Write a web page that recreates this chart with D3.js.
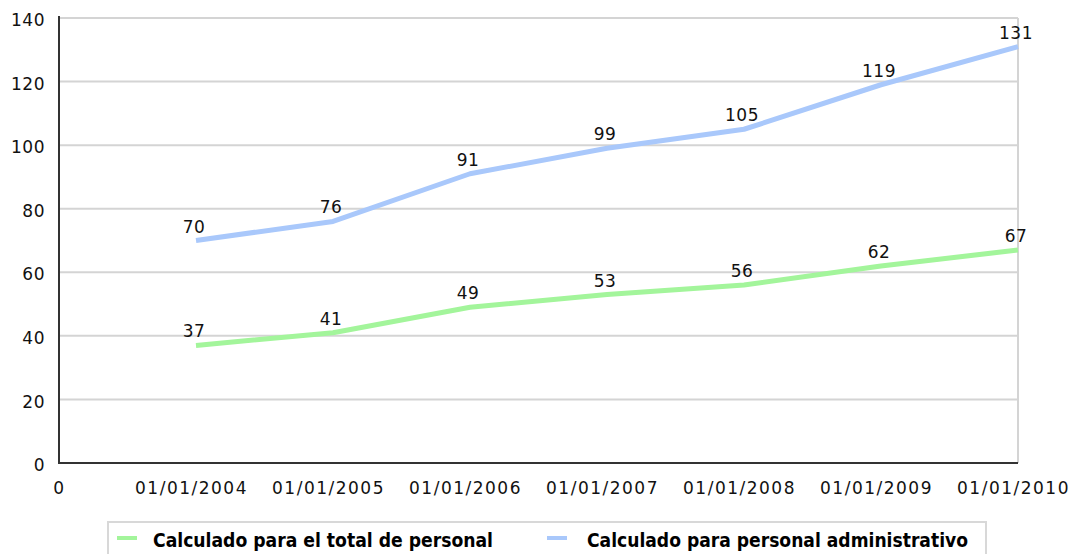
<!DOCTYPE html>
<html>
<head>
<meta charset="utf-8">
<script src="https://cdn.jsdelivr.net/npm/d3@7"></script>
<style>
  html, body { margin: 0; padding: 0; background: #fff; }
  svg { display: block; }
</style>
</head>
<body>
<svg id="chart" width="1079" height="554"></svg>
<script>
// Categories (x axis) and the two series
const dates = ["01/01/2004", "01/01/2005", "01/01/2006", "01/01/2007", "01/01/2008", "01/01/2009", "01/01/2010"];
const totalPersonal = [37, 41, 49, 53, 56, 62, 67];
const adminPersonal = [70, 76, 91, 99, 105, 119, 131];
const seriesNames = ["Calculado para el total de personal", "Calculado para personal administrativo"];
const seriesColors = ["#a3f59b", "#a9c8fb"];
const yTicks = [0, 20, 40, 60, 80, 100, 120, 140];
const xTickLabels = ["0"].concat(dates);

const svg = d3.select("#chart");
const plotLeft = 59, plotRight = 1018, plotTop = 18, plotBottom = 463;
const font = "'DejaVu Sans', Verdana, sans-serif";

const x = d3.scaleLinear().domain([0, dates.length]).range([plotLeft, plotRight]);
const y = d3.scaleLinear().domain([0, 140]).range([plotBottom, plotTop]);

// horizontal gridlines
svg.append("g").selectAll("line")
  .data(yTicks.filter(v => v > 0))
  .join("line")
  .attr("x1", plotLeft).attr("x2", plotRight)
  .attr("y1", d => y(d)).attr("y2", d => y(d))
  .attr("stroke", "#d4d4d4").attr("stroke-width", 2);

// right border of the plot
svg.append("line")
  .attr("x1", plotRight).attr("x2", plotRight)
  .attr("y1", y(140)).attr("y2", y(0))
  .attr("stroke", "#d4d4d4").attr("stroke-width", 2);

// y axis labels
const yAxis = d3.axisLeft(y).tickValues(yTicks).tickSize(0).tickPadding(14);
const gy = svg.append("g").attr("transform", `translate(${plotLeft},0)`).call(yAxis);
gy.select(".domain").remove();
gy.selectAll("text")
  .attr("font-family", font).attr("font-size", 17).attr("fill", "#111")
  .attr("letter-spacing", "0.5px")
  .attr("dy", "0.45em");

// x axis labels
const xAxis = d3.axisBottom(x)
  .tickValues(d3.range(xTickLabels.length))
  .tickFormat(i => xTickLabels[i])
  .tickSize(0).tickPadding(19);
const gx = svg.append("g").attr("transform", `translate(0,${plotBottom})`).call(xAxis);
gx.select(".domain").remove();
gx.selectAll("text")
  .attr("font-family", font).attr("font-size", 17).attr("fill", "#111")
  .attr("letter-spacing", "1.5px")
  .attr("dx", (d, i) => i === 0 ? "0" : "-5px");

// axis lines
svg.append("line")
  .attr("x1", plotLeft).attr("x2", plotLeft).attr("y1", plotTop - 2).attr("y2", plotBottom + 1)
  .attr("stroke", "#333").attr("stroke-width", 2);
svg.append("line")
  .attr("x1", plotLeft - 1).attr("x2", plotRight).attr("y1", plotBottom).attr("y2", plotBottom)
  .attr("stroke", "#333").attr("stroke-width", 2);

// series lines with value labels
const line = d3.line()
  .x((d, i) => x(i + 1))
  .y(d => y(d));

[totalPersonal, adminPersonal].forEach((values, s) => {
  svg.append("path")
    .datum(values)
    .attr("fill", "none")
    .attr("stroke", seriesColors[s])
    .attr("stroke-width", 5)
    .attr("stroke-linejoin", "round")
    .attr("d", line);

  svg.append("g").selectAll("text")
    .data(values)
    .join("text")
    .attr("x", (d, i) => x(i + 1) - 2)
    .attr("y", d => y(d) - 8)
    .attr("text-anchor", "middle")
    .attr("font-family", font).attr("font-size", 17).attr("fill", "#111")
    .attr("letter-spacing", "0.5px")
    .text(d => d);
});

// legend
const legend = svg.append("g");
legend.append("rect")
  .attr("x", 108).attr("y", 522).attr("width", 878).attr("height", 40)
  .attr("fill", "#fff").attr("stroke", "#d8d8d8").attr("stroke-width", 2);

const legendItems = [
  { sx: 117, tx: 153, w: 340 },
  { sx: 547, tx: 587, w: 381 }
];
legendItems.forEach((it, s) => {
  legend.append("line")
    .attr("x1", it.sx).attr("x2", it.sx + 20)
    .attr("y1", 538).attr("y2", 538)
    .attr("stroke", seriesColors[s]).attr("stroke-width", 4);
  legend.append("text")
    .attr("x", it.tx).attr("y", 547)
    .attr("font-family", "'DejaVu Sans Condensed', 'DejaVu Sans', sans-serif")
    .attr("font-weight", "bold").attr("font-size", 20).attr("fill", "#000")
    .attr("textLength", it.w).attr("lengthAdjust", "spacingAndGlyphs")
    .text(seriesNames[s]);
});
</script>
</body>
</html>
